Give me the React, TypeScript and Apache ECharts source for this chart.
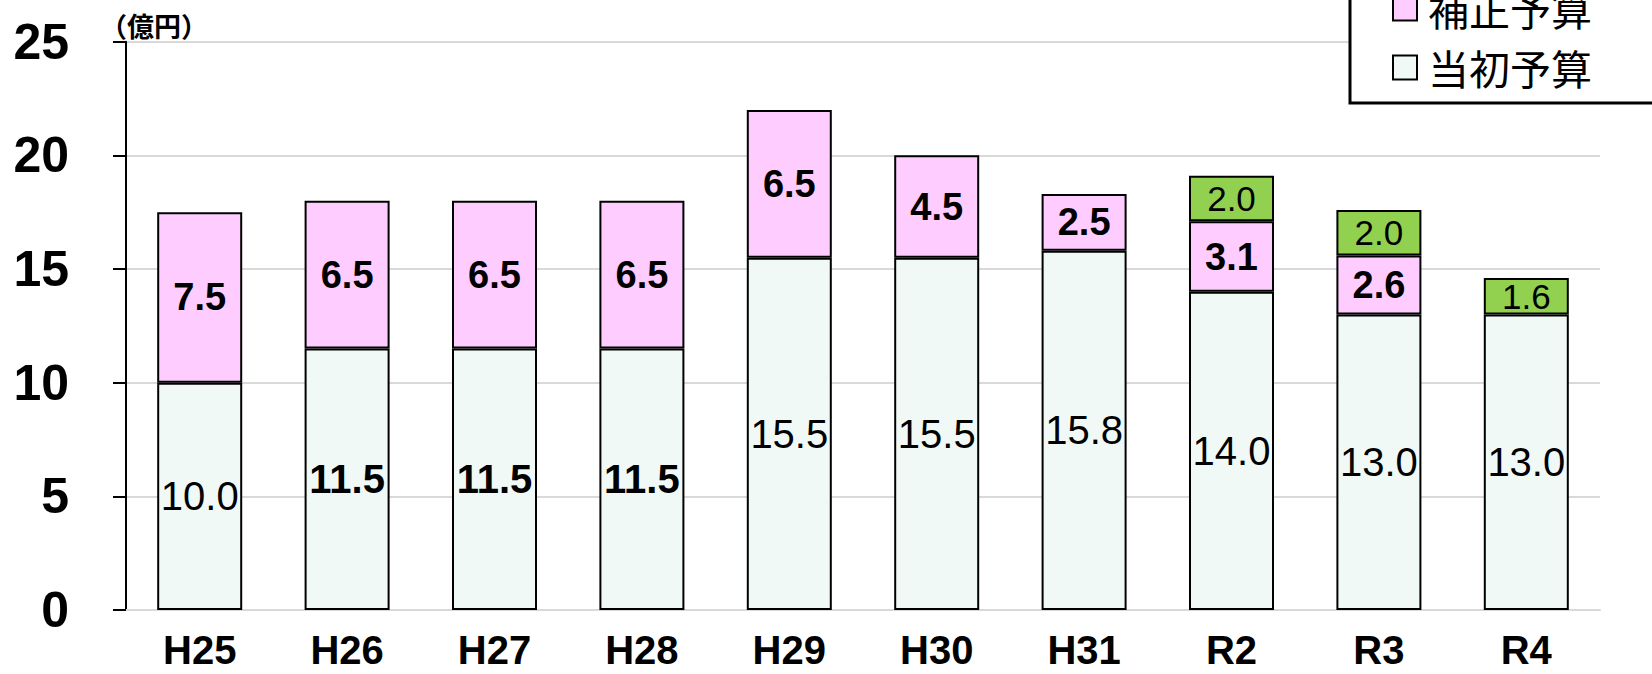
import React, { useEffect, useRef } from "react";
import * as echarts from "echarts";

const categories = ["H25", "H26", "H27", "H28", "H29", "H30", "H31", "R2", "R3", "R4"];
const initialBudget = [10.0, 11.5, 11.5, 11.5, 15.5, 15.5, 15.8, 14.0, 13.0, 13.0];
const supplementaryBudget = [7.5, 6.5, 6.5, 6.5, 6.5, 4.5, 2.5, 3.1, 2.6, null];
const reserveBudget = [null, null, null, null, null, null, null, 2.0, 2.0, 1.6];
const initialBold = [false, true, true, true, false, false, false, false, false, false];
const yTicks = [0, 5, 10, 15, 20, 25];
const unitLabel = "（億円）";
const legendNames = ["補正予算", "当初予算"];

const FONT = "'Liberation Sans', Arial, 'Noto Sans CJK JP', sans-serif";
const CJK = "'Noto Sans CJK JP', sans-serif";

export default function App() {
  const ref = useRef<HTMLDivElement>(null);
  useEffect(() => {
    if (!ref.current) return;
    const chart = echarts.init(ref.current, undefined, { renderer: "svg" });
    const fmt = (p: any) => (p.value == null ? "" : Number(p.value).toFixed(1));
    chart.setOption({
      animation: false,
      backgroundColor: "#ffffff",
      grid: { left: 126, right: 52, top: 41.7, bottom: 64, containLabel: false, outerBoundsMode: "none" },
      legend: {
        data: legendNames,
        orient: "vertical",
        left: 1350,
        top: -24,
        padding: [12, 80, 15, 42],
        itemWidth: 24,
        itemHeight: 24,
        itemGap: 18,
        icon: "rect",
        backgroundColor: "#ffffff",
        borderColor: "#000000",
        borderWidth: 3,
        borderRadius: 0,
        textStyle: { fontSize: 41, fontFamily: CJK, color: "#000", padding: [0, 0, 0, 6] },
        selectedMode: false,
      },
      graphic: [
        {
          type: "text",
          left: 100,
          top: 12,
          style: { text: unitLabel, fontSize: 27, fontWeight: "bold", fontFamily: CJK, fill: "#000" },
        },
      ],
      xAxis: {
        type: "category",
        data: categories,
        axisLine: { show: true, lineStyle: { color: "#d9d9d9", width: 2 } },
        axisTick: { show: false },
        axisLabel: {
          fontSize: 40,
          lineHeight: 30,
          fontWeight: "bold",
          fontFamily: FONT,
          color: "#000",
          margin: 25,
        },
      },
      yAxis: {
        type: "value",
        min: yTicks[0],
        max: yTicks[yTicks.length - 1],
        interval: 5,
        axisLine: { show: true, lineStyle: { color: "#000", width: 2 } },
        axisTick: { show: true, inside: false, length: 13, lineStyle: { color: "#000", width: 2 } },
        axisLabel: { fontSize: 50, fontWeight: "bold", fontFamily: FONT, color: "#000", margin: 57 },
        splitLine: { show: true, lineStyle: { color: "#d9d9d9", width: 2 } },
      },
      series: [
        {
          name: "当初予算",
          type: "bar",
          stack: "total",
          barWidth: 85,
          data: initialBudget.map((v, i) => ({
            value: v,
            label: { fontWeight: initialBold[i] ? "bold" : "normal" },
          })),
          itemStyle: { color: "#F1F9F7", borderColor: "#000", borderWidth: 2 },
          label: { show: true, position: "inside", formatter: fmt, fontSize: 40, fontFamily: FONT, color: "#000" },
        },
        {
          name: "補正予算",
          type: "bar",
          stack: "total",
          barWidth: 85,
          data: supplementaryBudget,
          itemStyle: { color: "#FFCCFF", borderColor: "#000", borderWidth: 2 },
          label: { show: true, position: "inside", formatter: fmt, fontSize: 38, fontWeight: "bold", fontFamily: FONT, color: "#000" },
        },
        {
          name: "予備費",
          type: "bar",
          stack: "total",
          barWidth: 85,
          data: reserveBudget,
          itemStyle: { color: "#92D050", borderColor: "#000", borderWidth: 2 },
          label: { show: true, position: "inside", formatter: fmt, fontSize: 35, fontFamily: FONT, color: "#000" },
        },
      ],
    });
    return () => chart.dispose();
  }, []);
  return <div ref={ref} style={{ width: 1652, height: 674, position: "absolute", left: 0, top: 0 }} />;
}
